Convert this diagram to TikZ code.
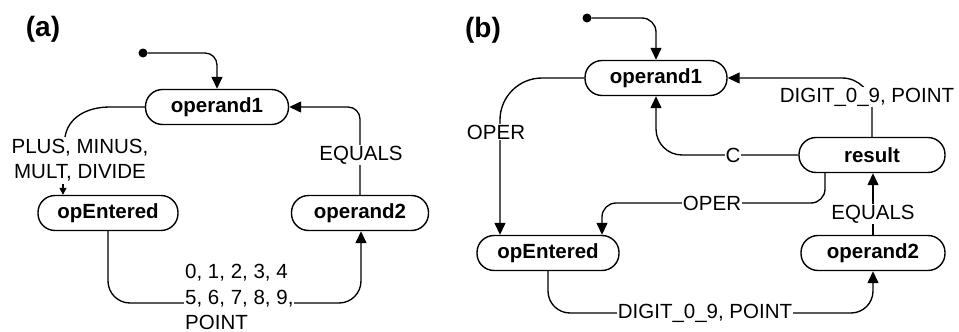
\documentclass[tikz,border=0pt]{standalone}
\usepackage{fontspec}
\setmainfont{Liberation Sans}
\usetikzlibrary{arrows.meta,calc}
\begin{document}
\begin{tikzpicture}[x=1pt,y=-1pt,
 state/.style={draw,line width=1.4pt,rounded corners=17pt,minimum height=35pt,inner sep=0pt,font=\fontsize{20.5}{24}\selectfont\bfseries},
 lbl/.style={fill=white,inner sep=1pt,font=\fontsize{20.5}{25.5}\selectfont},
 edge/.style={line width=1.35pt},
 arr/.style={edge,-{Triangle[length=12pt,width=11pt]}},
 sarr/.style={edge,-{Triangle[length=7pt,width=7pt]}},
 init/.style={circle,fill,inner sep=0pt,minimum size=9pt},
 tag/.style={font=\fontsize{28}{32}\selectfont\bfseries}]
\useasboundingbox (0,0) rectangle (959,332);

% ---------- (a) ----------
\node[tag] (ta) at (43,29) {(a)};
\node[state,minimum width=143pt] (a1) at (217,107) {operand1};
\node[state,minimum width=140pt] (aE) at (108,213) {opEntered};
\node[state,minimum width=137pt] (a2) at (360,213) {operand2};
\node[init] (ia) at (143,53) {};

\draw[arr,rounded corners=12pt] (ia) -| (a1.north);

\node[lbl,fill=none,align=center] (lpm) at (80,160) {PLUS, MINUS,\\MULT, DIVIDE};
\draw[edge] (a1.west) -- (110,107) .. controls (86,107) and (68,118) .. (65,137);
\coordinate (pmEnd) at (63,184);
\draw[sarr] (pmEnd) -- (pmEnd |- aE.north);

\draw[arr,rounded corners=22pt] (aE.south) -- (108,303) -- (361,303) -- (a2.south -| 361,0);
\node[lbl,align=left,anchor=west] (ldig) at (184,297) {0, 1, 2, 3, 4\\5, 6, 7, 8, 9,\\POINT};

\draw[arr,rounded corners=12pt] (a2.north) |- (a1.east);
\node[lbl] (leq) at (361,155) {EQUALS};

% ---------- (b) ----------
\node[tag] (tb) at (483,30) {(b)};
\node[state,minimum width=142pt] (b1) at (656,78) {operand1};
\node[state,minimum width=146pt] (bR) at (872,155) {result};
\node[state,minimum width=142pt] (bE) at (548,253) {opEntered};
\node[state,minimum width=144pt] (b2) at (873,253) {operand2};
\node[init] (ib) at (587,18) {};

\draw[arr,rounded corners=14pt] (ib) -| (b1.north);

\draw[arr,rounded corners=42pt] (b1.west) -| ([xshift=-48pt]bE.north);
\node[lbl] (lop1) at (496,132) {OPER};

\draw[arr,rounded corners=14pt] ([xshift=-47pt]bR.south) -- (825,203) -- (602,203) -- ([xshift=54pt]bE.north);
\node[lbl] (lop2) at (712,203) {OPER};

\draw[arr,rounded corners=26pt] (bR.west) -| (b1.south);
\node[lbl] (lc) at (733,155) {C};

\draw[arr,rounded corners=30pt] (bR.north) |- (b1.east);
\node[lbl] (ldp1) at (867,97) {DIGIT\_0\_9, POINT};

\draw[arr] (b2.north) -- (b2.north |- bR.south);
\node[lbl] (leq2) at (873,214) {EQUALS};

\draw[arr,rounded corners=22pt] (bE.south) -- (548,313) -- (873,313) -- (b2.south);
\node[lbl] (ldp2) at (705,313) {DIGIT\_0\_9, POINT};
\end{tikzpicture}
\end{document}
